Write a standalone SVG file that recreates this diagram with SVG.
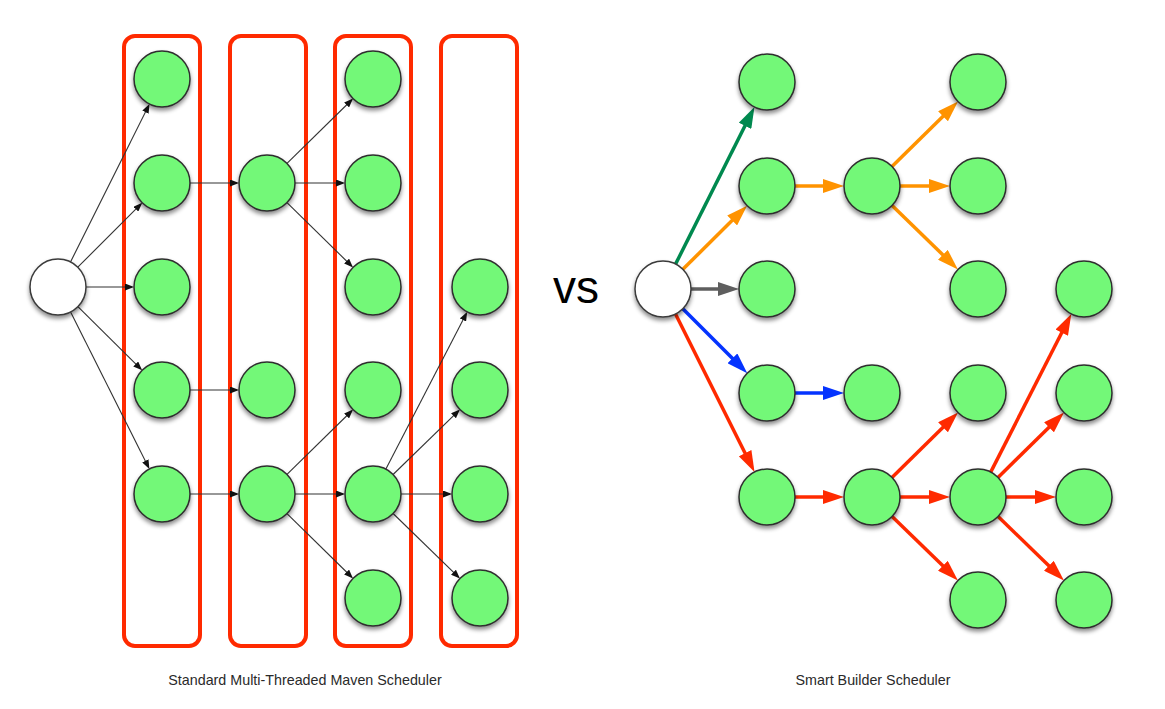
<svg xmlns="http://www.w3.org/2000/svg" width="1165" height="709" viewBox="0 0 1165 709">
<style>
.lane{fill:none;stroke:#FF2A00;stroke-width:4}
.n{fill:#73F878;stroke:#2E2E2E;stroke-width:1.5;filter:url(#sh)}
.w{fill:#FFFFFF;stroke:#3A3A3A;stroke-width:1.5;filter:url(#sh)}
.thin{stroke:#333;stroke-width:1.1;fill:none;marker-end:url(#ak)}
.thick{stroke-width:3.5;fill:none}
.g{stroke:#00894F;marker-end:url(#ag)}
.o{stroke:#FF9300;marker-end:url(#ao)}
.gr{stroke:#5E5E5E;marker-end:url(#agr)}
.b{stroke:#0433FF;marker-end:url(#ab)}
.r{stroke:#FF2A00;marker-end:url(#ar)}
.cap{font-family:"Liberation Sans",Arial,sans-serif;font-size:14.3px;fill:#2A2A2A;text-anchor:middle}
</style>
<defs>
<filter id="sh" x="-30%" y="-30%" width="160%" height="170%">
<feDropShadow dx="0" dy="3" stdDeviation="2" flood-color="#000" flood-opacity="0.45"/>
</filter>
<marker id="ak" markerUnits="userSpaceOnUse" markerWidth="9" markerHeight="7" refX="7" refY="3.5" orient="auto"><path d="M0,0 L9,3.5 L0,7 z" fill="#111"/></marker>
<marker id="ag" markerUnits="strokeWidth" markerWidth="6" markerHeight="4" refX="4" refY="2" orient="auto"><path d="M0,0 L6,2 L0,4 z" fill="#00894F"/></marker>
<marker id="ao" markerUnits="strokeWidth" markerWidth="6" markerHeight="4" refX="4" refY="2" orient="auto"><path d="M0,0 L6,2 L0,4 z" fill="#FF9300"/></marker>
<marker id="agr" markerUnits="strokeWidth" markerWidth="6" markerHeight="4" refX="4" refY="2" orient="auto"><path d="M0,0 L6,2 L0,4 z" fill="#5E5E5E"/></marker>
<marker id="ab" markerUnits="strokeWidth" markerWidth="6" markerHeight="4" refX="4" refY="2" orient="auto"><path d="M0,0 L6,2 L0,4 z" fill="#0433FF"/></marker>
<marker id="ar" markerUnits="strokeWidth" markerWidth="6" markerHeight="4" refX="4" refY="2" orient="auto"><path d="M0,0 L6,2 L0,4 z" fill="#FF2A00"/></marker>
</defs>
<rect width="1165" height="709" fill="#FFFFFF"/>

<g id="lanes">
<rect id="lane1" class="lane" x="124" y="36" width="76" height="610" rx="11"/>
<rect id="lane2" class="lane" x="230" y="36" width="76" height="610" rx="11"/>
<rect id="lane3" class="lane" x="335" y="36" width="76" height="610" rx="11"/>
<rect id="lane4" class="lane" x="441" y="36" width="76" height="610" rx="11"/>
</g>

<g id="connectors">
<line class="thin" x1="70.5" y1="262" x2="148.6" y2="105.8"/>
<line class="thin" x1="77.8" y1="267.2" x2="140.8" y2="204.2"/>
<line class="thin" x1="86" y1="287" x2="132" y2="287"/>
<line class="thin" x1="77.9" y1="306.7" x2="140.7" y2="368.9"/>
<line class="thin" x1="70.6" y1="312" x2="148.5" y2="467.2"/>
<line class="thin" x1="190" y1="183" x2="237" y2="183"/>
<line class="thin" x1="190" y1="390" x2="237" y2="390"/>
<line class="thin" x1="190" y1="494" x2="237" y2="494"/>
<line class="thin" x1="287" y1="163.4" x2="351.6" y2="100"/>
<line class="thin" x1="295" y1="183" x2="343" y2="183"/>
<line class="thin" x1="287" y1="202.6" x2="351.6" y2="266"/>
<line class="thin" x1="287" y1="474.4" x2="351.6" y2="411"/>
<line class="thin" x1="295" y1="494" x2="343" y2="494"/>
<line class="thin" x1="287" y1="513.6" x2="351.6" y2="577"/>
<line class="thin" x1="385.9" y1="469.1" x2="466.2" y2="313.7"/>
<line class="thin" x1="393.1" y1="474.5" x2="458.5" y2="410.9"/>
<line class="thin" x1="401" y1="494" x2="450" y2="494"/>
<line class="thin" x1="393.1" y1="513.5" x2="458.5" y2="577.1"/>

<line class="thick g" x1="675.6" y1="264" x2="751.3" y2="113.3"/>
<line class="thick o" x1="682.9" y1="269.3" x2="742.1" y2="210.6"/>
<line class="thick gr" x1="691" y1="289" x2="732" y2="289"/>
<line class="thick b" x1="682.8" y1="308.8" x2="742.3" y2="368.3"/>
<line class="thick r" x1="675.5" y1="314" x2="751.4" y2="465.7"/>
<line class="thick o" x1="795" y1="186" x2="837" y2="186"/>
<line class="thick o" x1="892" y1="166.4" x2="953" y2="106.5"/>
<line class="thick o" x1="900" y1="186" x2="943" y2="186"/>
<line class="thick o" x1="892.1" y1="205.5" x2="952.9" y2="264.6"/>
<line class="thick b" x1="795" y1="393" x2="837" y2="393"/>
<line class="thick r" x1="795" y1="497" x2="837" y2="497"/>
<line class="thick r" x1="892" y1="477.4" x2="953" y2="417.5"/>
<line class="thick r" x1="900" y1="497" x2="943" y2="497"/>
<line class="thick r" x1="892.1" y1="516.5" x2="952.9" y2="575.6"/>
<line class="thick r" x1="990.7" y1="472.1" x2="1068.1" y2="320.2"/>
<line class="thick r" x1="998" y1="477.4" x2="1059" y2="417.5"/>
<line class="thick r" x1="1006" y1="497" x2="1049" y2="497"/>
<line class="thick r" x1="998.1" y1="516.5" x2="1058.9" y2="575.6"/>
</g>

<g id="L-start"><circle class="w" cx="58" cy="287" r="28"/></g>
<g id="L-c1-r1"><circle class="n" cx="162" cy="79" r="28"/></g>
<g id="L-c1-r2"><circle class="n" cx="162" cy="183" r="28"/></g>
<g id="L-c1-r3"><circle class="n" cx="162" cy="287" r="28"/></g>
<g id="L-c1-r4"><circle class="n" cx="162" cy="390" r="28"/></g>
<g id="L-c1-r5"><circle class="n" cx="162" cy="494" r="28"/></g>
<g id="L-c2-r2"><circle class="n" cx="267" cy="183" r="28"/></g>
<g id="L-c2-r4"><circle class="n" cx="267" cy="390" r="28"/></g>
<g id="L-c2-r5"><circle class="n" cx="267" cy="494" r="28"/></g>
<g id="L-c3-r1"><circle class="n" cx="373" cy="79" r="28"/></g>
<g id="L-c3-r2"><circle class="n" cx="373" cy="183" r="28"/></g>
<g id="L-c3-r3"><circle class="n" cx="373" cy="287" r="28"/></g>
<g id="L-c3-r4"><circle class="n" cx="373" cy="390" r="28"/></g>
<g id="L-c3-r5"><circle class="n" cx="373" cy="494" r="28"/></g>
<g id="L-c3-r6"><circle class="n" cx="373" cy="598" r="28"/></g>
<g id="L-c4-r3"><circle class="n" cx="480" cy="287" r="28"/></g>
<g id="L-c4-r4"><circle class="n" cx="480" cy="390" r="28"/></g>
<g id="L-c4-r5"><circle class="n" cx="480" cy="494" r="28"/></g>
<g id="L-c4-r6"><circle class="n" cx="480" cy="598" r="28"/></g>

<g id="R-start"><circle class="w" cx="663" cy="289" r="28"/></g>
<g id="R-c1-r1"><circle class="n" cx="767" cy="82" r="28"/></g>
<g id="R-c1-r2"><circle class="n" cx="767" cy="186" r="28"/></g>
<g id="R-c1-r3"><circle class="n" cx="767" cy="289" r="28"/></g>
<g id="R-c1-r4"><circle class="n" cx="767" cy="393" r="28"/></g>
<g id="R-c1-r5"><circle class="n" cx="767" cy="497" r="28"/></g>
<g id="R-c2-r2"><circle class="n" cx="872" cy="186" r="28"/></g>
<g id="R-c2-r4"><circle class="n" cx="872" cy="393" r="28"/></g>
<g id="R-c2-r5"><circle class="n" cx="872" cy="497" r="28"/></g>
<g id="R-c3-r1"><circle class="n" cx="978" cy="82" r="28"/></g>
<g id="R-c3-r2"><circle class="n" cx="978" cy="186" r="28"/></g>
<g id="R-c3-r3"><circle class="n" cx="978" cy="289" r="28"/></g>
<g id="R-c3-r4"><circle class="n" cx="978" cy="393" r="28"/></g>
<g id="R-c3-r5"><circle class="n" cx="978" cy="497" r="28"/></g>
<g id="R-c3-r6"><circle class="n" cx="978" cy="600" r="28"/></g>
<g id="R-c4-r3"><circle class="n" cx="1084" cy="289" r="28"/></g>
<g id="R-c4-r4"><circle class="n" cx="1084" cy="393" r="28"/></g>
<g id="R-c4-r5"><circle class="n" cx="1084" cy="497" r="28"/></g>
<g id="R-c4-r6"><circle class="n" cx="1084" cy="600" r="28"/></g>

<g id="labels">
<text x="553" y="303" font-family="'Liberation Sans',Arial,sans-serif" font-size="46" fill="#000">vs</text>
<text class="cap" x="305" y="685">Standard Multi-Threaded Maven Scheduler</text>
<text class="cap" x="873" y="685">Smart Builder Scheduler</text>
</g>
</svg>
